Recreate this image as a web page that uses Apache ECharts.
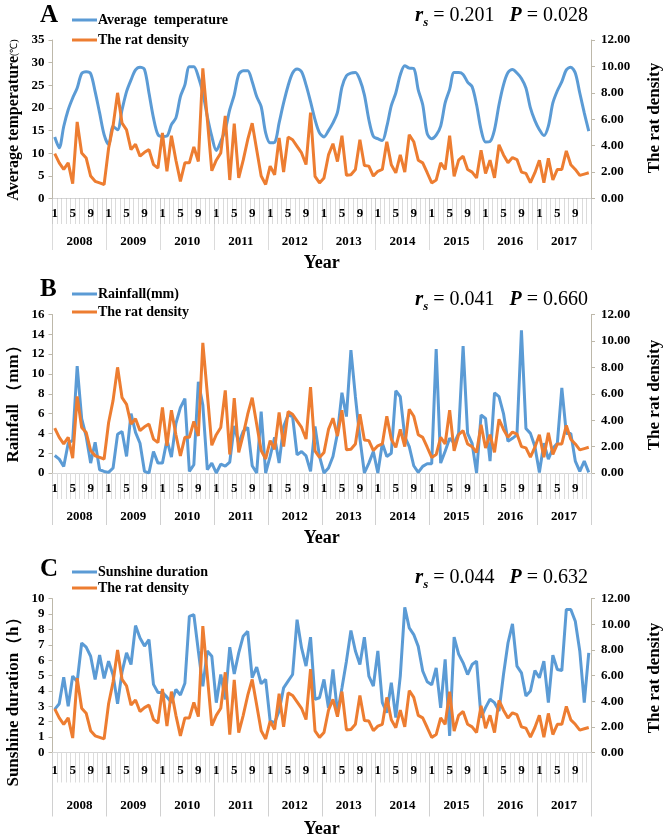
<!DOCTYPE html>
<html><head><meta charset="utf-8">
<script src="https://cdn.jsdelivr.net/npm/echarts@6/dist/echarts.min.js"></script>
<style>html,body{margin:0;padding:0;background:#fff}#c{width:669px;height:837px}</style>
</head><body><div id="c"></div>
<script>
// ---------- data ----------
const years = ['2008','2009','2010','2011','2012','2013','2014','2015','2016','2017'];
const monthNums = ['1','2','3','4','5','6','7','8','9','10','11','12'];
const shownMonths = ['1','5','9'];

const ratDensity = [
 3.4,2.7,2.2,2.7,1.13,5.8,3.45,3.07,1.7,1.3,1.18,1.06,
 3.8,5.5,8.0,5.7,5.2,3.7,4.1,3.2,3.5,3.7,2.57,2.3,
 4.96,2.06,4.75,2.9,1.3,2.7,2.7,3.9,2.8,9.86,6.0,2.1,
 2.9,3.45,6.26,1.4,5.66,1.56,2.9,4.45,5.7,3.7,1.7,1.06,
 2.45,1.8,4.58,2.0,4.65,4.45,3.95,3.45,2.57,6.5,1.68,1.18,
 1.56,3.3,4.15,2.8,4.75,1.76,1.8,2.2,4.45,2.5,2.45,1.7,
 2.06,2.2,4.3,2.55,1.94,3.3,2.0,4.83,4.3,2.9,2.7,1.95,
 1.18,1.4,2.7,2.2,4.75,1.68,2.9,3.2,2.2,2.0,1.56,3.65,
 1.9,2.9,1.56,4.07,3.3,2.7,3.1,2.95,2.0,1.9,1.2,1.95,
 2.9,1.2,3.05,1.4,2.2,2.2,3.6,2.55,2.2,1.75,1.85,1.95
];
const temperature = [
 13.6,11.2,15.9,19.6,22.2,24.4,27.6,28.0,27.6,23.6,18.9,14.1,
 11.9,15.9,15.2,19.6,23.6,26.2,28.4,29.0,28.5,23.3,17.8,14.1,
 13.7,13.8,16.3,17.8,22.5,25.1,29.1,29.1,26.9,23.3,18.1,13.7,
 10.6,12.6,15.2,19.6,22.9,27.4,28.2,28.2,25.8,22.5,20.3,14.5,
 12.3,12.4,16.7,21.1,24.9,27.7,28.6,28.0,25.1,21.4,17.4,14.5,
 13.6,15.0,16.7,19.0,24.6,27.1,27.7,27.8,26.2,22.9,17.4,13.7,
 13.2,12.8,15.9,20.5,23.3,27.3,29.3,28.8,28.7,24.0,20.7,14.3,
 13.2,14.0,16.0,21.1,24.1,27.8,27.8,27.4,25.7,24.7,20.7,15.2,
 12.5,12.6,15.2,20.7,25.1,27.8,28.5,27.7,26.5,24.4,20.0,17.2,
 15.2,13.9,16.0,21.1,23.8,25.8,28.4,29.0,27.7,23.3,18.9,14.9
];
const rainfall = [
 1.77,1.4,0.66,3.0,3.3,10.8,5.5,3.7,1.0,3.1,0.33,0.16,
 0.06,0.5,3.9,4.2,1.67,6.0,4.1,3.0,0.16,0,2.17,1.0,
 1.0,3.34,1.6,5.0,6.6,7.5,0.16,0.83,9.2,6.85,0.33,1.0,
 0,0.9,0.7,1.1,4.75,3.0,4.2,4.6,0.73,0,6.2,0,
 1.67,3.6,1.0,4.7,5.85,5.7,1.83,2.17,1.73,0.16,4.7,1.67,
 0,0.5,1.67,4.0,8.1,5.7,12.4,7.7,3.5,0,1.0,2.17,
 0,3.0,1.67,2.0,8.3,7.7,3.67,2.67,0.73,0.06,0.67,0.94,
 0.94,12.5,1.0,2.2,3.5,3.0,4.0,12.8,4.0,3.0,0,5.85,
 5.5,1.2,8.1,7.7,6.0,3.2,3.5,3.85,14.4,4.5,4.0,2.67,
 0.06,3.0,1.4,2.5,3.0,8.6,4.0,4.0,1.2,0.16,1.2,0.06
];
const sunshine = [
 2.8,3.17,4.9,3.0,4.97,4.6,7.12,6.85,6.26,4.75,6.33,4.82,
 5.94,5.03,3.17,5.24,6.48,5.72,8.25,7.45,6.92,7.34,4.43,3.9,
 3.9,3.6,3.24,4.1,3.74,4.5,8.85,8.96,6.6,4.3,6.6,6.26,
 3.24,5.07,3.45,6.85,5.1,6.48,7.56,7.88,4.86,5.55,4.47,4.75,
 2.05,1.94,2.7,4.2,4.64,5.07,8.64,6.8,5.62,7.5,3.46,3.56,
 4.75,2.9,5.4,2.59,4.2,5.94,7.93,6.6,5.72,7.5,4.97,4.32,
 6.6,3.24,2.59,4.54,2.27,4.97,9.44,8.1,7.67,6.9,5.3,4.6,
 4.4,5.5,2.9,6.05,1.08,7.5,6.4,5.83,5.07,5.72,5.94,2.27,
 2.92,3.46,3.24,2.7,5.07,7.12,8.36,5.62,5.18,3.67,4.0,5.33,
 4.86,5.94,3.24,6.33,5.4,5.33,9.3,9.3,8.53,6.6,3.24,6.48
];

const panelLetters = ['A','B','C'];
const envNames = ['Average  temperature','Rainfall(mm)','Sunshine duration'];
const envData = [temperature, rainfall, sunshine];
const leftMax = [35, 16, 10];
const leftInterval = [5, 2, 1];
const rightMax = 12, rightInterval = 2;
const stats = [['0.201','0.028'],['0.041','0.660'],['0.044','0.632']];

// ---------- layout ----------
const FONT = "'Liberation Serif','Times New Roman',serif";
const BLUE = '#5b9bd5', ORANGE = '#ed7d31';
const plotLeft = 52.5, plotRight = 591;
const gridTop = [40, 314.5, 598.7];
const gridBottom = [198.5, 473, 752.5];
const monthTick = [26, 26, 30];
const yearTick = [52, 52, 64];
const monthMargin = [9, 9, 12];
const yearMargin = [37, 37, 47];
const yearTitleY = [263, 538, 829];
const legendTop = [8, 282, 560];
const legendGap = [6, 4, 2];
const letterY = [16, 290, 570];
const statY = [16, 300, 578];
const leftTitles = [
  {text:'{a|Average temperature}{b|(℃)}', y:120},
  {text:'{a|Rainfall （mm）}', y:400},
  {text:'{a|Sunshine duration（h）}', y:698}
];
const rightTitleY = [118, 395, 678];

const cats = [];
years.forEach(y => monthNums.forEach(m => cats.push(y + '-' + m)));

const grid = [], xAxis = [], yAxis = [], series = [], legend = [], graphic = [];
const axisLineColor = '#bdb8aa';
const lbl = {fontFamily: FONT, fontWeight: 'bold', fontSize: 13, color: '#000'};

for (let g = 0; g < 3; g++) {
  grid.push({left: plotLeft, width: plotRight - plotLeft, top: gridTop[g], height: gridBottom[g] - gridTop[g], containLabel: false});
  xAxis.push({
    type: 'category', gridIndex: g, data: cats, boundaryGap: true, position: 'bottom',
    axisLine: {show: true, lineStyle: {color: '#d6d6d6', width: 1}},
    axisTick: {show: true, interval: 0, length: monthTick[g], lineStyle: {color: g === 0 ? '#b8b8b8' : '#dcdcdc', type: g === 0 ? 'dotted' : 'solid'}},
    axisLabel: Object.assign({interval: 0, margin: monthMargin[g], formatter: v => { const m = v.split('-')[1]; return shownMonths.includes(m) ? m : ''; }}, lbl),
    splitLine: {show: false}
  });
  xAxis.push({
    type: 'category', gridIndex: g, data: years, boundaryGap: true, position: 'bottom',
    axisLine: {show: false},
    axisTick: {show: true, interval: 0, length: yearTick[g], lineStyle: {color: g === 0 ? '#b8b8b8' : '#d0d0d0', type: g === 0 ? 'dotted' : 'solid'}},
    axisLabel: Object.assign({interval: 0, margin: yearMargin[g]}, lbl),
    splitLine: {show: false}
  });
  yAxis.push({
    type: 'value', gridIndex: g, position: 'left', min: 0, max: leftMax[g], interval: leftInterval[g],
    axisLine: {show: true, lineStyle: {color: axisLineColor}},
    axisTick: {show: true, length: 4, lineStyle: {color: axisLineColor}},
    splitLine: {show: false},
    axisLabel: Object.assign({margin: 8}, lbl)
  });
  yAxis.push({
    type: 'value', gridIndex: g, position: 'right', min: 0, max: rightMax, interval: rightInterval,
    axisLine: {show: true, lineStyle: {color: axisLineColor}},
    axisTick: {show: true, length: 4, lineStyle: {color: axisLineColor}},
    splitLine: {show: false},
    axisLabel: Object.assign({margin: 10, formatter: v => v.toFixed(2)}, lbl)
  });
  series.push({
    name: envNames[g], type: 'line', xAxisIndex: 2 * g, yAxisIndex: 2 * g, data: envData[g],
    symbol: 'none', smooth: g === 0 ? 0.3 : false,
    lineStyle: {color: BLUE, width: 3}, itemStyle: {color: BLUE}, z: 2
  });
  series.push({
    name: 'The rat density', type: 'line', xAxisIndex: 2 * g, yAxisIndex: 2 * g + 1, data: ratDensity,
    symbol: 'none', lineStyle: {color: ORANGE, width: 3}, itemStyle: {color: ORANGE}, z: 3
  });
  legend.push({
    orient: 'vertical', left: 67, top: legendTop[g], itemWidth: 25, itemHeight: 3, itemGap: legendGap[g],
    icon: 'rect', data: [envNames[g], 'The rat density'], selectedMode: false,
    textStyle: {fontFamily: FONT, fontWeight: 'bold', fontSize: 14, color: '#000', padding: [0, 0, 0, -4]}
  });
  graphic.push({type: 'text', left: 40, top: letterY[g] - 13,
    style: {text: panelLetters[g], font: 'bold 25px ' + FONT, fill: '#000'}});
  graphic.push({type: 'text', x: 588, y: statY[g],
    style: {
      text: '{r|r}{s|s}{n| = ' + stats[g][0] + '   }{p|P}{n| = ' + stats[g][1] + '}',
      align: 'right', verticalAlign: 'middle',
      rich: {
        r: {fontFamily: FONT, fontSize: 21, fontStyle: 'italic', fontWeight: 'bold', fill: '#000'},
        s: {fontFamily: FONT, fontSize: 13, fontStyle: 'italic', fontWeight: 'bold', fill: '#000', padding: [14, 0, 0, 0]},
        n: {fontFamily: FONT, fontSize: 20, fill: '#000'},
        p: {fontFamily: FONT, fontSize: 20, fontStyle: 'italic', fontWeight: 'bold', fill: '#000'}
      }
    }});
  graphic.push({type: 'text', x: 14, y: leftTitles[g].y, rotation: Math.PI / 2,
    style: {text: leftTitles[g].text, align: 'center', verticalAlign: 'middle',
      rich: {a: {fontFamily: FONT, fontSize: g === 0 ? 16 : 17, fontWeight: 'bold', fill: '#000'},
             b: {fontFamily: FONT, fontSize: 10, fill: '#000'}}}});
  graphic.push({type: 'text', x: 655, y: rightTitleY[g], rotation: Math.PI / 2,
    style: {text: 'The rat density', align: 'center', verticalAlign: 'middle',
      font: 'bold 17px ' + FONT, fill: '#000'}});
  graphic.push({type: 'text', x: (plotLeft + plotRight) / 2, y: yearTitleY[g],
    style: {text: 'Year', align: 'center', verticalAlign: 'middle', font: 'bold 18px ' + FONT, fill: '#000'}});
}

const chart = echarts.init(document.getElementById('c'), null, {renderer: 'canvas'});
chart.setOption({backgroundColor: '#fff', animation: false, grid, xAxis, yAxis, series, legend, graphic});
</script></body></html>
